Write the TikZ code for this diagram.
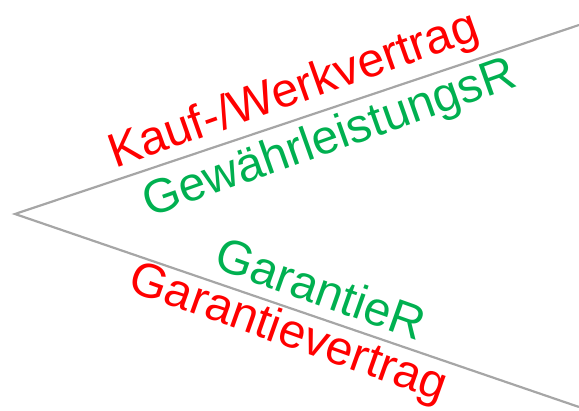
\documentclass[tikz,border=0pt]{standalone}
\usepackage{fontspec}
\setmainfont{Liberation Sans}
\usepackage{tikz}
\usetikzlibrary{positioning,calc}
\definecolor{vred}{RGB}{255,0,0}
\definecolor{vgreen}{RGB}{0,176,80}
\definecolor{vgrey}{RGB}{166,166,166}

\begin{document}
\begin{tikzpicture}
[x=1pt,y=-1pt,
lbl/.style={inner sep=0pt,font=\fontsize{48}{48}\selectfont},
grenze/.style={draw=vgrey,line width=2.2pt}]
\useasboundingbox (0,0) rectangle (579,411);

\coordinate (spitze) at (15,214);
\coordinate (oben) at (579,25);
\coordinate (unten) at (579,407);

\draw[grenze] (oben) -- (spitze) -- (unten);

\node (kauf) at (294,92)[lbl,vred,rotate=19.5] {Kauf-/Werkvertrag};
\node (gewr) at (330,140)[lbl,vgreen,rotate=19.5] {GewährleistungsR};
\node (garr) at (321,288)[lbl,vgreen,rotate=-19.5] {GarantieR};
\node (garv) at (288,334)[lbl,vred,rotate=-19.5] {Garantievertrag};
\end{tikzpicture}
\end{document}
